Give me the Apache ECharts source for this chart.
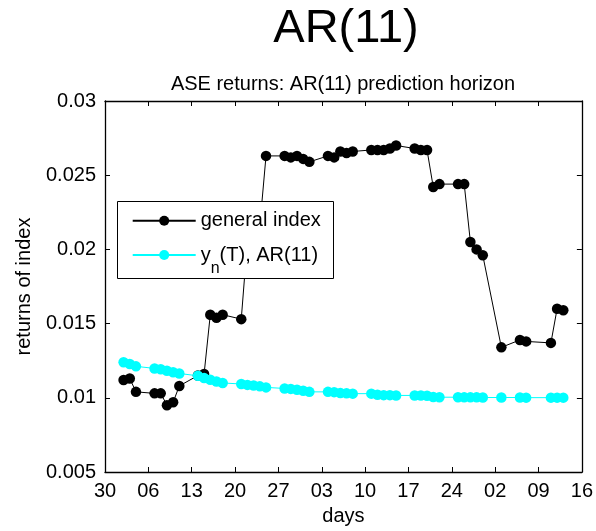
<!DOCTYPE html>
<html>
<head>
<meta charset="utf-8">
<script src="https://cdn.jsdelivr.net/npm/echarts@6/dist/echarts.min.js"></script>
<style>
html,body{margin:0;padding:0;background:#fff;}
#chart{width:596px;height:531px;}
</style>
</head>
<body>
<div id="chart"></div>
<script>
const startDate = '2007-12-30';
const dates = [
  '2008-01-02','2008-01-03','2008-01-04','2008-01-07','2008-01-08','2008-01-09','2008-01-10','2008-01-11',
  '2008-01-14','2008-01-15','2008-01-16','2008-01-17','2008-01-18','2008-01-21','2008-01-22','2008-01-23',
  '2008-01-24','2008-01-25','2008-01-28','2008-01-29','2008-01-30','2008-01-31','2008-02-01','2008-02-04',
  '2008-02-05','2008-02-06','2008-02-07','2008-02-08','2008-02-11','2008-02-12','2008-02-13','2008-02-14',
  '2008-02-15','2008-02-18','2008-02-19','2008-02-20','2008-02-21','2008-02-22','2008-02-25','2008-02-26',
  '2008-02-27','2008-02-28','2008-02-29','2008-03-03','2008-03-06','2008-03-07','2008-03-11','2008-03-12',
  '2008-03-13'
];
const generalIndex = [
  0.0112,0.0113,0.0104,0.0103,0.0103,0.0095,0.0097,0.0108,
  0.0115,0.0116,0.0156,0.0154,0.0156,0.0153,0.0206,0.0211,
  0.0216,0.0263,0.0263,0.0262,0.0263,0.0261,0.0259,0.0263,
  0.0262,0.0266,0.0265,0.0266,0.0267,0.0267,0.0267,0.0268,
  0.0270,0.0268,0.0267,0.0267,0.0242,0.0244,0.0244,0.0244,
  0.0205,0.0200,0.0196,0.0134,0.0139,0.0138,0.0137,0.0160,
  0.0159
];
const arForecast = [
  0.01240,0.01228,0.01212,0.01198,0.01192,0.01182,0.01172,0.01164,
  0.01148,0.01133,0.01122,0.01110,0.01100,0.01093,0.01087,0.01083,
  0.01077,0.01070,0.01063,0.01060,0.01054,0.01047,0.01040,0.01040,
  0.01038,0.01032,0.01030,0.01028,0.01028,0.01020,0.01018,0.01018,
  0.01016,0.01016,0.01015,0.01014,0.01005,0.01004,0.01004,0.01003,
  0.01003,0.01003,0.01002,0.01002,0.01002,0.01001,0.01001,0.01001,
  0.01001
];
const xTickLabels = ['30','06','13','20','27','03','10','17','24','02','09','16'];
const yTickLabels = ['0.005','0.01','0.015','0.02','0.025','0.03'];
const seriesNames = ['general index', 'y_n(T), AR(11)'];
const mainTitle = 'AR(11)';
const subTitle = 'ASE returns: AR(11) prediction horizon';
const xName = 'days';
const yName = 'returns of index';

function dayOffset(s) {
  const p = s.split('-').map(Number), q = startDate.split('-').map(Number);
  return Math.round((Date.UTC(p[0], p[1]-1, p[2]) - Date.UTC(q[0], q[1]-1, q[2])) / 86400000);
}
const xs = dates.map(dayOffset);
const blackData = xs.map((x, i) => [x, generalIndex[i]]);
const cyanData = xs.map((x, i) => [x, arForecast[i]]);

const FONT = 'Liberation Sans, Arial, sans-serif';
const xMax = (xTickLabels.length - 1) * 7;

const chart = echarts.init(document.getElementById('chart'), null, {renderer: 'canvas'});
const axisCommon = {
  axisLine: {show: true, onZero: false, lineStyle: {color: '#000', width: 1.3}},
  axisTick: {show: true, inside: true, length: 5, lineStyle: {color: '#000', width: 1}},
  splitLine: {show: false}
};
chart.setOption({
  animation: false,
  backgroundColor: '#fff',
  title: [
    {text: mainTitle, left: 341, top: 1, textAlign: 'center',
     textStyle: {fontFamily: FONT, fontSize: 47, fontWeight: 'normal', color: '#000'}},
    {text: subTitle, left: 338, top: 69, textAlign: 'center',
     textStyle: {fontFamily: FONT, fontSize: 20, fontWeight: 'normal', color: '#000'}}
  ],
  grid: {left: 105, right: 11, top: 101, bottom: 58, containLabel: false},
  xAxis: [
    Object.assign({
      type: 'value', min: 0, max: xMax, interval: 7, position: 'bottom',
      name: xName, nameLocation: 'middle', nameGap: 34,
      nameTextStyle: {fontFamily: FONT, fontSize: 20, color: '#000'},
      axisLabel: {fontFamily: FONT, fontSize: 20, color: '#000', margin: 9,
        formatter: v => xTickLabels[Math.round(v / 7)]}
    }, axisCommon),
    Object.assign({
      type: 'value', min: 0, max: xMax, interval: 7, position: 'top',
      axisLabel: {show: false}
    }, axisCommon)
  ],
  yAxis: [
    Object.assign({
      type: 'value', min: 0.005, max: 0.03, interval: 0.005, position: 'left',
      name: yName, nameLocation: 'middle', nameGap: 71, nameRotate: 90,
      nameTextStyle: {fontFamily: FONT, fontSize: 20, color: '#000'},
      axisLabel: {fontFamily: FONT, fontSize: 20, color: '#000', margin: 9,
        formatter: v => yTickLabels[Math.round((v - 0.005) / 0.005)]}
    }, axisCommon),
    Object.assign({
      type: 'value', min: 0.005, max: 0.03, interval: 0.005, position: 'right',
      axisLabel: {show: false}
    }, axisCommon)
  ],
  graphic: [{
    type: 'rect', z: 10, left: 117, top: 201,
    shape: {x: 0, y: 0, width: 216, height: 77},
    style: {fill: '#fff', stroke: '#000', lineWidth: 1}
  }],
  legend: {
    z: 20, orient: 'vertical', left: 131.7, top: 206.7, padding: 0,
    itemWidth: 63, itemHeight: 12.5, itemGap: 6.3,
    data: seriesNames,
    formatter: name => name === seriesNames[1]
      ? '{t|y}{s|n}{t|(T), AR(11)}'
      : '{t|' + name + '}',
    textStyle: {
      fontFamily: FONT, fontSize: 20, color: '#000',
      rich: {
        t: {fontFamily: FONT, fontSize: 20, lineHeight: 20, padding: [4, 0, 4, 0], color: '#000'},
        s: {fontFamily: FONT, fontSize: 16, lineHeight: 10, padding: [16, 0, 0, 0], verticalAlign: 'top', color: '#000'}
      }
    }
  },
  series: [
    {
      name: seriesNames[0], type: 'line', data: blackData, z: 2,
      symbol: 'circle', symbolSize: 10.5, showSymbol: true,
      lineStyle: {color: '#000', width: 1},
      itemStyle: {color: '#000'}
    },
    {
      name: seriesNames[1], type: 'line', data: cyanData, z: 3,
      symbol: 'circle', symbolSize: 10.5, showSymbol: true,
      lineStyle: {color: '#00ffff', width: 1},
      itemStyle: {color: '#00ffff'}
    }
  ]
});
</script>
</body>
</html>
